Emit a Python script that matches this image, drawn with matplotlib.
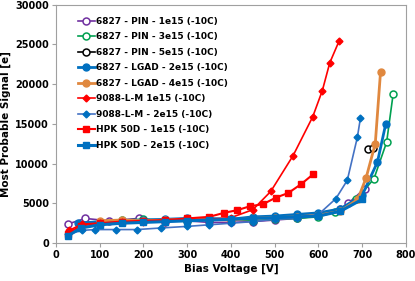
import matplotlib
matplotlib.use("Agg")
from matplotlib import pyplot as plt

# data
pin1_v = [27, 67, 120, 189, 250, 300, 350, 400, 450, 500, 550, 600, 650, 668, 706]
pin1_s = [2400, 3100, 2800, 3100, 2700, 2800, 2600, 2600, 2700, 2900, 3100, 3400, 4300, 5000, 6860]

pin3_v = [150, 200, 250, 300, 350, 400, 450, 500, 550, 600, 638, 687, 727, 756, 771]
pin3_s = [2900, 3000, 2900, 2800, 2900, 3000, 2800, 3000, 3100, 3300, 3900, 5500, 8100, 12700, 18800]

pin5_v = [714, 724]
pin5_s = [11800, 12000]

lgad2_v = [50, 100, 150, 200, 250, 300, 350, 400, 450, 500, 550, 600, 650, 700, 735, 754]
lgad2_s = [2500, 2700, 2800, 2900, 3000, 3100, 3100, 3000, 3300, 3400, 3600, 3800, 4300, 6000, 10200, 15000]

lgad4_v = [100, 150, 200, 250, 300, 350, 400, 450, 500, 550, 600, 650, 690, 709, 730, 742]
lgad4_s = [2800, 2900, 2800, 2900, 3000, 3000, 2900, 3100, 3200, 3300, 3500, 4000, 5500, 8200, 12500, 21500]

lm1_v = [30, 60, 100, 150, 200, 250, 300, 350, 400, 450, 491, 542, 587, 609, 626, 647]
lm1_s = [1600, 2400, 2500, 2600, 2600, 2700, 2900, 3000, 3200, 4200, 6500, 11000, 15900, 19200, 22700, 25400]

lm2_v = [27, 60, 90, 137, 185, 240, 300, 350, 400, 450, 500, 550, 600, 640, 666, 689, 696]
lm2_s = [1100, 1600, 1700, 1700, 1700, 1900, 2100, 2300, 2500, 2700, 3000, 3100, 3600, 5600, 7900, 13300, 15700]

hpk1_v = [27, 57, 100, 150, 200, 250, 300, 350, 384, 414, 444, 473, 503, 531, 560, 588]
hpk1_s = [1200, 2200, 2500, 2700, 2800, 2900, 3100, 3300, 3800, 4140, 4640, 4890, 5730, 6300, 7400, 8660]

hpk2_v = [27, 57, 100, 150, 200, 250, 300, 350, 400, 450, 500, 550, 600, 650, 700]
hpk2_s = [900, 1900, 2300, 2500, 2600, 2700, 2800, 2900, 3000, 3100, 3200, 3300, 3400, 4000, 5500]

fig = plt.figure(figsize=(4.15, 2.81), dpi=100)
ax = fig.add_axes([0.135, 0.135, 0.843, 0.848])

ax.plot(pin1_v, pin1_s, color="#7030A0", lw=1.2, marker="o", ms=5, mfc="white", mew=1.1,
        label="6827 - PIN - 1e15 (-10C)")
ax.plot(pin3_v, pin3_s, color="#00A050", lw=1.2, marker="o", ms=5, mfc="white", mew=1.1,
        label="6827 - PIN - 3e15 (-10C)")
ax.plot(pin5_v, pin5_s, color="black", lw=1.2, marker="o", ms=5, mfc="white", mew=1.1,
        label="6827 - PIN - 5e15 (-10C)")
ax.plot(lgad2_v, lgad2_s, color="#0070C0", lw=2, marker="o", ms=5,
        label="6827 - LGAD - 2e15 (-10C)")
ax.plot(lgad4_v, lgad4_s, color="#E0883F", lw=2, marker="o", ms=5,
        label="6827 - LGAD - 4e15 (-10C)")
ax.plot(lm1_v, lm1_s, color="#FF0000", lw=1.2, marker="D", ms=3.5,
        label="9088-L-M 1e15 (-10C)")
ax.plot(lm2_v, lm2_s, color="#4472C4", lw=1.2, marker="D", ms=3.5, mfc="#0070C0", mec="#0070C0",
        label="9088-L-M - 2e15 (-10C)")
ax.plot(hpk1_v, hpk1_s, color="#FF0000", lw=1.5, marker="s", ms=5,
        label="HPK 50D - 1e15 (-10C)")
ax.plot(hpk2_v, hpk2_s, color="#0070C0", lw=2.2, marker="s", ms=5,
        label="HPK 50D - 2e15 (-10C)")

ax.set_xlim(0, 800)
ax.set_ylim(0, 30000)
ax.set_xticks(range(0, 801, 100))
ax.set_yticks(range(0, 30001, 5000))
for s in ax.spines.values():
    s.set_color("#A0A0A0")
ax.tick_params(direction="out", length=3, color="#A0A0A0", labelsize=7, pad=2)
for t in ax.get_xticklabels() + ax.get_yticklabels():
    t.set_fontweight("bold")
ax.set_xlabel("Bias Voltage [V]", fontsize=7.5, fontweight="bold", labelpad=3)
ax.set_ylabel("Most Probable Signal [e]", fontsize=7.5, fontweight="bold", labelpad=3)

leg = ax.legend(loc="upper left", frameon=False, prop={"size": 6.5, "weight": "bold"},
                handlelength=1.9, handletextpad=0.1, labelspacing=0.72,
                bbox_to_anchor=(0.052, 0.965), borderaxespad=0)

fig.savefig("out.png", dpi=100)
